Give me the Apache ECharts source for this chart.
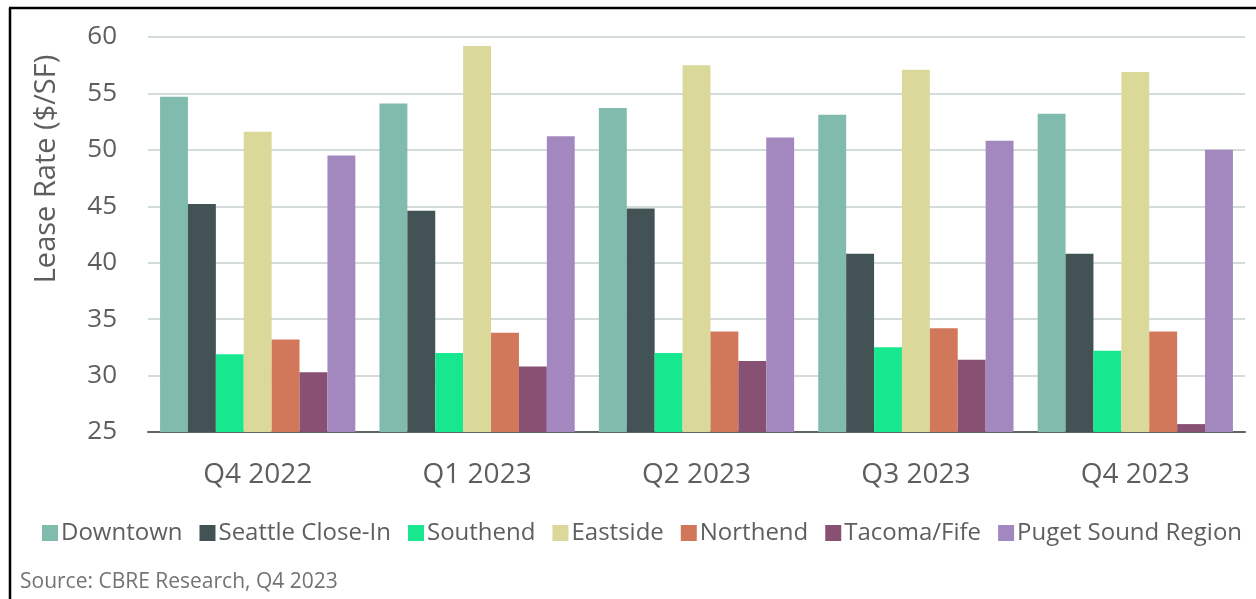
<!DOCTYPE html>
<html>
<head>
<meta charset="utf-8">
<title>Lease Rate by Submarket</title>
<script src="https://cdn.jsdelivr.net/npm/echarts@6/dist/echarts.min.js"></script>
<style>
  html, body { margin: 0; padding: 0; background: #ffffff; }
  #chart { width: 1256px; height: 599px; }
</style>
</head>
<body>
<div id="chart"></div>
<script>
// Quarters on the category axis
const quarters = ['Q4 2022', 'Q1 2023', 'Q2 2023', 'Q3 2023', 'Q4 2023'];

// Average asking lease rates ($/SF) per submarket
const downtown        = [54.7, 54.1, 53.7, 53.1, 53.2];
const seattleCloseIn  = [45.2, 44.6, 44.8, 40.8, 40.8];
const southend        = [31.9, 32.0, 32.0, 32.5, 32.2];
const eastside        = [51.6, 59.2, 57.5, 57.1, 56.9];
const northend        = [33.2, 33.8, 33.9, 34.2, 33.9];
const tacomaFife      = [30.3, 30.8, 31.3, 31.4, 25.7];
const pugetSound      = [49.5, 51.2, 51.1, 50.8, 50.0];

// Y axis range
const yMin = 25;
const yMax = 60;
const yStep = 5;

const seriesDefs = [
  { name: 'Downtown',           data: downtown,       color: '#80BBAD' },
  { name: 'Seattle Close-In',   data: seattleCloseIn, color: '#435254' },
  { name: 'Southend',           data: southend,       color: '#17E88F' },
  { name: 'Eastside',           data: eastside,       color: '#DBD99A' },
  { name: 'Northend',           data: northend,       color: '#D2785A' },
  { name: 'Tacoma/Fife',        data: tacomaFife,     color: '#885073' },
  { name: 'Puget Sound Region', data: pugetSound,     color: '#A388BF' }
];

const textColor = '#5e5e5e';
const fontFamily = '"Open Sans", Roboto, "Liberation Sans", sans-serif';

const chart = echarts.init(document.getElementById('chart'), null, { renderer: 'canvas' });

chart.setOption({
  animation: false,
  backgroundColor: '#ffffff',
  textStyle: { fontFamily: fontFamily },
  grid: { left: 148, right: 11, top: 37, bottom: 167, containLabel: false },
  legend: {
    data: seriesDefs.map(s => s.name),
    left: 37,
    top: 516,
    itemWidth: 16,
    itemHeight: 16,
    itemGap: 17,
    icon: 'rect',
    textStyle: { fontSize: 24, color: textColor, fontFamily: fontFamily, padding: [0, 0, 0, -2] }
  },
  xAxis: {
    type: 'category',
    data: quarters,
    axisTick: { show: false },
    axisLine: { lineStyle: { color: '#5b6567', width: 2 } },
    axisLabel: { fontSize: 28, color: textColor, margin: 29, fontFamily: fontFamily }
  },
  yAxis: {
    type: 'value',
    min: yMin,
    max: yMax,
    interval: yStep,
    axisLine: { show: false },
    axisTick: { show: false },
    axisLabel: { fontSize: 26, color: textColor, margin: 31, fontFamily: fontFamily },
    splitLine: { lineStyle: { color: '#d3dbdb', width: 2 } }
  },
  series: seriesDefs.map(s => ({
    name: s.name,
    type: 'bar',
    data: s.data,
    barGap: '0%',
    barCategoryGap: '11%',
    itemStyle: { color: s.color }
  })),
  graphic: [
    {
      type: 'text',
      x: 47,
      y: 169,
      rotation: Math.PI / 2,
      style: {
        text: 'Lease Rate ($/SF)',
        fontSize: 29,
        fill: textColor,
        fontFamily: fontFamily,
        align: 'center',
        verticalAlign: 'middle'
      }
    },
    {
      type: 'text',
      x: 20,
      y: 582,
      style: {
        text: 'Source: CBRE Research, Q4 2023',
        fontSize: 21,
        fill: '#737373',
        fontFamily: fontFamily,
        align: 'left',
        verticalAlign: 'middle'
      }
    },
    // frame lines along the left and top edges
    {
      type: 'line',
      shape: { x1: 10, y1: 8, x2: 10, y2: 599 },
      style: { stroke: '#000000', lineWidth: 2.5 }
    },
    {
      type: 'line',
      shape: { x1: 9, y1: 8, x2: 1256, y2: 8 },
      style: { stroke: '#000000', lineWidth: 2.5 }
    }
  ]
});
</script>
</body>
</html>
